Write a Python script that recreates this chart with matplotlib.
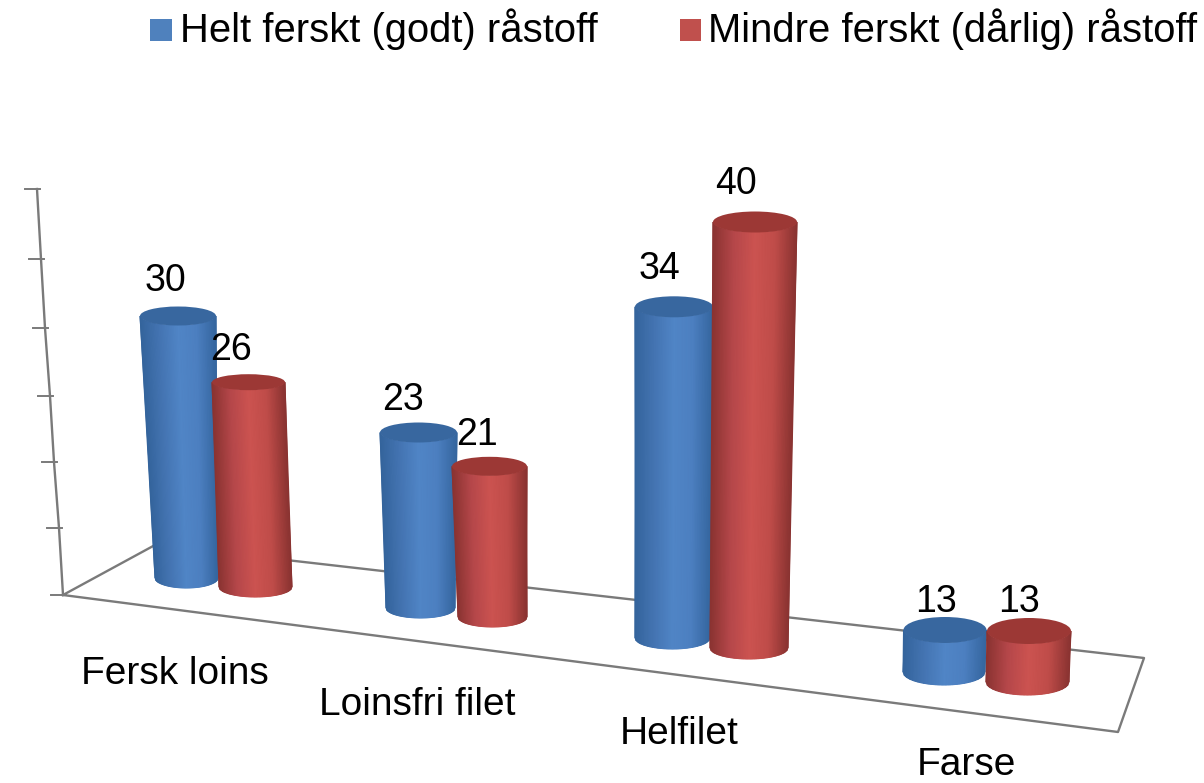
import matplotlib
matplotlib.use('Agg')
import matplotlib.pyplot as plt
import numpy as np
from matplotlib.colors import LinearSegmentedColormap
from matplotlib.patches import Ellipse, Rectangle

# Data
categories = ['Fersk loins', 'Loinsfri filet', 'Helfilet', 'Farse']
series_names = ['Helt ferskt (godt) råstoff', 'Mindre ferskt (dårlig) råstoff']
fresh = [30, 23, 34, 13]
less_fresh = [26, 21, 40, 13]
axis_ticks = [10, 15, 20, 25, 30, 35, 40]

# Layout of the fake 3D scene, in image pixels
base_value = 10
base_x = [[186.5, 420.5, 672.5, 944], [255.5, 492.5, 749, 1027.5]]
base_y = [[578, 608, 638, 672], [587, 617, 648, 682]]
base_rx = [[31.5, 34.5, 37.5, 41], [36.5, 34.5, 39, 41.5]]
top_x = [[178, 418.5, 674, 945], [248.5, 489.5, 755, 1029]]
top_rx = [[38, 38.5, 39, 41.5], [36.5, 37.5, 42, 42]]
height_scale = [[13.1, 13.5, 13.8, 14.0], [12.8, 13.7, 14.2, 17.0]]
base_ry = [[10, 10, 11, 13], [10, 10, 11, 13]]
top_ry = [[9.5, 10, 10.5, 13], [8, 9.5, 10.5, 13]]
label_dx = [[-13, -16, -15, -9], [-17, -13, -19, -10]]
label_dy = [[-35, -33, -38, -28], [-32, -31, -38, -29]]
cat_label_xy = [(175, 674), (417, 705), (679, 734), (966, 765)]
tick_px_x = [63, 59, 54, 50, 45, 41, 37]
tick_px_y = [595, 528, 462, 396, 328, 259, 189]

side_colors = [['#34649c', '#4474b2', '#5085c6', '#4c7fc0', '#35669f'],
               ['#8a3331', '#b5474a', '#cc5350', '#bf4c49', '#8a3331']]
top_colors = ['#38679f', '#9c3835']
swatch_colors = ['#4f81bd', '#c0504d']
line_color = '#7a7a7a'

plt.rcParams['font.family'] = ['Liberation Sans', 'DejaVu Sans']

fig = plt.figure(figsize=(12.04, 7.83), dpi=100)
ax = fig.add_axes([0, 0, 1, 1])
ax.set_xlim(0, 1204)
ax.set_ylim(783, 0)
ax.axis('off')

# Floor and value axis
floor_x = [63, 1118, 1144, 155, 63]
floor_y = [595, 732, 658, 545, 595]
ax.plot(floor_x, floor_y, color=line_color, lw=1.7, zorder=1)
ax.plot(tick_px_x, tick_px_y, color=line_color, lw=1.7, zorder=1)
for x, y in zip(tick_px_x, tick_px_y):
    ax.plot([x - 12, x + 3], [y, y], color=line_color, lw=1.4, zorder=1)


def draw_cylinder(s, c, value, order):
    top_y = base_y[s][c] - (value - base_value) * height_scale[s][c]
    u = np.linspace(-1, 1, 61)
    t = np.linspace(0, 1, 2)
    U, T = np.meshgrid(u, t)
    cx = top_x[s][c] + (base_x[s][c] - top_x[s][c]) * T
    cy = top_y + (base_y[s][c] - top_y) * T
    rx = top_rx[s][c] + (base_rx[s][c] - top_rx[s][c]) * T
    ry = top_ry[s][c] + (base_ry[s][c] - top_ry[s][c]) * T
    X = cx + rx * U
    Y = cy + ry * np.sqrt(1 - U ** 2)
    cmap = LinearSegmentedColormap.from_list('side', side_colors[s])
    ax.pcolormesh(X, Y, U, cmap=cmap, shading='gouraud', zorder=order)
    ax.add_patch(Ellipse((top_x[s][c], top_y), 2 * top_rx[s][c], 2 * top_ry[s][c],
                         facecolor=top_colors[s], edgecolor='none', zorder=order))
    ax.text(top_x[s][c] + label_dx[s][c], top_y + label_dy[s][c], str(value),
            fontsize=27, ha='center', va='center', color='black', zorder=20)


for c in range(len(categories)):
    draw_cylinder(0, c, fresh[c], 3 + c * 2)
    draw_cylinder(1, c, less_fresh[c], 4 + c * 2)

# Category labels
for name, (x, y) in zip(categories, cat_label_xy):
    ax.text(x, y, name, fontsize=28, ha='center', va='center', color='black')

# Legend
ax.add_patch(Rectangle((150, 19), 22, 22, facecolor=swatch_colors[0], edgecolor='none'))
ax.text(180, 29, series_names[0], fontsize=28.8, ha='left', va='center')
ax.add_patch(Rectangle((680, 19), 21, 22, facecolor=swatch_colors[1], edgecolor='none'))
ax.text(708, 29, series_names[1], fontsize=28.8, ha='left', va='center')

fig.savefig('out.png', dpi=100)
